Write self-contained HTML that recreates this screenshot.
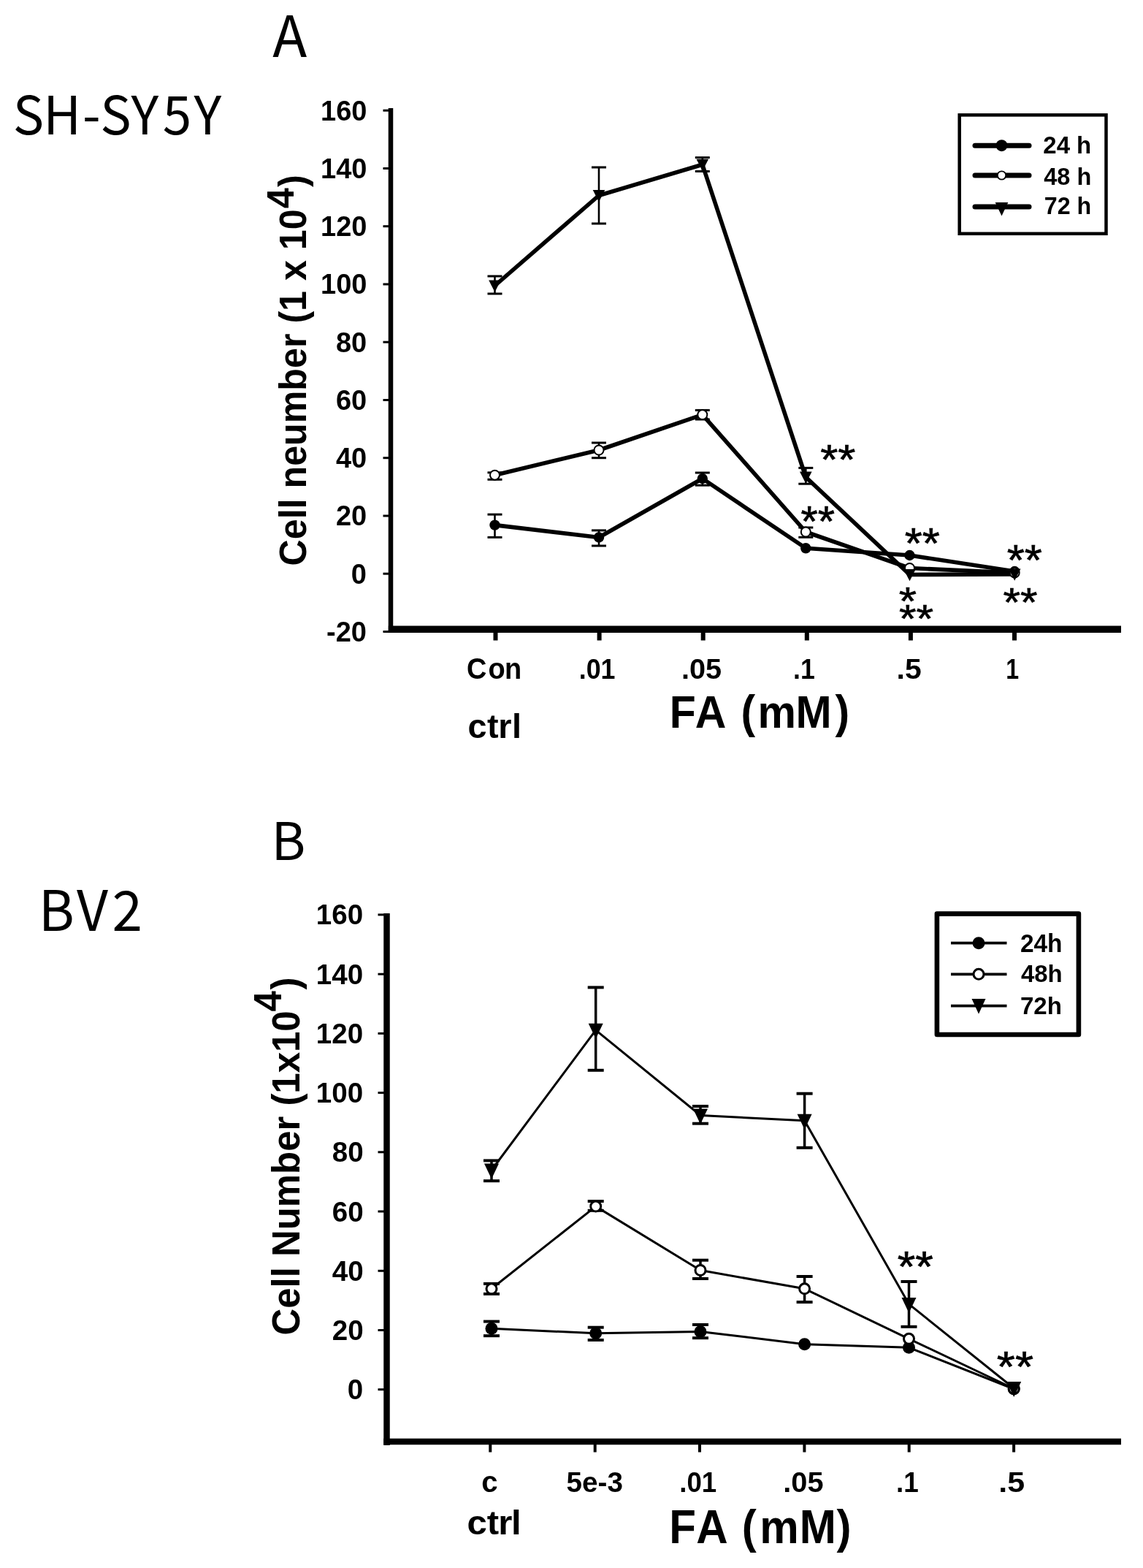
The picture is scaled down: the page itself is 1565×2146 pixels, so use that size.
<!DOCTYPE html>
<html><head><meta charset="utf-8"><title>Cell number vs FA concentration</title>
<style>html,body{margin:0;padding:0;background:#fff;overflow:hidden;} svg{display:block;}</style></head>
<body><svg width="1565" height="2146" viewBox="0 0 1565 2146">
<rect width="1565" height="2146" fill="#fff"/>
<line x1="535.0" y1="148.0" x2="535.0" y2="866.0" stroke="#000" stroke-width="6.5" stroke-linecap="butt"/>
<line x1="531.8" y1="861.2" x2="1535.0" y2="861.2" stroke="#000" stroke-width="9.4" stroke-linecap="butt"/>
<line x1="524.5" y1="864.5" x2="535.0" y2="864.5" stroke="#000" stroke-width="3" stroke-linecap="butt"/>
<line x1="524.5" y1="785.2" x2="535.0" y2="785.2" stroke="#000" stroke-width="3" stroke-linecap="butt"/>
<line x1="524.5" y1="706.0" x2="535.0" y2="706.0" stroke="#000" stroke-width="3" stroke-linecap="butt"/>
<line x1="524.5" y1="626.7" x2="535.0" y2="626.7" stroke="#000" stroke-width="3" stroke-linecap="butt"/>
<line x1="524.5" y1="547.5" x2="535.0" y2="547.5" stroke="#000" stroke-width="3" stroke-linecap="butt"/>
<line x1="524.5" y1="468.2" x2="535.0" y2="468.2" stroke="#000" stroke-width="3" stroke-linecap="butt"/>
<line x1="524.5" y1="389.0" x2="535.0" y2="389.0" stroke="#000" stroke-width="3" stroke-linecap="butt"/>
<line x1="524.5" y1="309.7" x2="535.0" y2="309.7" stroke="#000" stroke-width="3" stroke-linecap="butt"/>
<line x1="524.5" y1="230.5" x2="535.0" y2="230.5" stroke="#000" stroke-width="3" stroke-linecap="butt"/>
<line x1="524.5" y1="151.2" x2="535.0" y2="151.2" stroke="#000" stroke-width="3" stroke-linecap="butt"/>
<line x1="678.5" y1="861.0" x2="678.5" y2="876.5" stroke="#000" stroke-width="6" stroke-linecap="butt"/>
<line x1="820.6" y1="861.0" x2="820.6" y2="876.5" stroke="#000" stroke-width="6" stroke-linecap="butt"/>
<line x1="962.7" y1="861.0" x2="962.7" y2="876.5" stroke="#000" stroke-width="6" stroke-linecap="butt"/>
<line x1="1104.8" y1="861.0" x2="1104.8" y2="876.5" stroke="#000" stroke-width="6" stroke-linecap="butt"/>
<line x1="1246.9" y1="861.0" x2="1246.9" y2="876.5" stroke="#000" stroke-width="6" stroke-linecap="butt"/>
<line x1="1389.0" y1="861.0" x2="1389.0" y2="876.5" stroke="#000" stroke-width="6" stroke-linecap="butt"/>
<polyline points="677.5,718.6 820.0,735.5 961.8,655.0 1103.3,750.3 1245.5,760.0 1389.2,782.0" fill="none" stroke="#000" stroke-width="5.6" stroke-linejoin="round"/>
<polyline points="677.5,650.2 820.0,616.0 961.8,567.6 1103.3,728.0 1245.5,777.5 1389.2,784.0" fill="none" stroke="#000" stroke-width="5.6" stroke-linejoin="round"/>
<polyline points="677.5,391.0 820.0,267.5 961.8,225.3 1103.3,653.0 1245.5,786.5 1389.2,786.0" fill="none" stroke="#000" stroke-width="5.6" stroke-linejoin="round"/>
<line x1="677.5" y1="704.1" x2="677.5" y2="735.4" stroke="#000" stroke-width="2.6" stroke-linecap="butt"/>
<line x1="667.5" y1="704.1" x2="687.5" y2="704.1" stroke="#000" stroke-width="3" stroke-linecap="butt"/>
<line x1="667.5" y1="735.4" x2="687.5" y2="735.4" stroke="#000" stroke-width="3" stroke-linecap="butt"/>
<line x1="820.0" y1="725.9" x2="820.0" y2="747.0" stroke="#000" stroke-width="2.6" stroke-linecap="butt"/>
<line x1="810.0" y1="725.9" x2="830.0" y2="725.9" stroke="#000" stroke-width="3" stroke-linecap="butt"/>
<line x1="810.0" y1="747.0" x2="830.0" y2="747.0" stroke="#000" stroke-width="3" stroke-linecap="butt"/>
<line x1="961.8" y1="647.0" x2="961.8" y2="664.2" stroke="#000" stroke-width="2.6" stroke-linecap="butt"/>
<line x1="951.8" y1="647.0" x2="971.8" y2="647.0" stroke="#000" stroke-width="3" stroke-linecap="butt"/>
<line x1="951.8" y1="664.2" x2="971.8" y2="664.2" stroke="#000" stroke-width="3" stroke-linecap="butt"/>
<line x1="677.5" y1="646.8" x2="677.5" y2="656.3" stroke="#000" stroke-width="2.6" stroke-linecap="butt"/>
<line x1="667.5" y1="646.8" x2="687.5" y2="646.8" stroke="#000" stroke-width="3" stroke-linecap="butt"/>
<line x1="667.5" y1="656.3" x2="687.5" y2="656.3" stroke="#000" stroke-width="3" stroke-linecap="butt"/>
<line x1="820.0" y1="606.0" x2="820.0" y2="626.7" stroke="#000" stroke-width="2.6" stroke-linecap="butt"/>
<line x1="810.0" y1="606.0" x2="830.0" y2="606.0" stroke="#000" stroke-width="3" stroke-linecap="butt"/>
<line x1="810.0" y1="626.7" x2="830.0" y2="626.7" stroke="#000" stroke-width="3" stroke-linecap="butt"/>
<line x1="961.8" y1="561.4" x2="961.8" y2="574.0" stroke="#000" stroke-width="2.6" stroke-linecap="butt"/>
<line x1="951.8" y1="561.4" x2="971.8" y2="561.4" stroke="#000" stroke-width="3" stroke-linecap="butt"/>
<line x1="951.8" y1="574.0" x2="971.8" y2="574.0" stroke="#000" stroke-width="3" stroke-linecap="butt"/>
<line x1="1103.3" y1="722.0" x2="1103.3" y2="735.3" stroke="#000" stroke-width="2.6" stroke-linecap="butt"/>
<line x1="1093.3" y1="722.0" x2="1113.3" y2="722.0" stroke="#000" stroke-width="3" stroke-linecap="butt"/>
<line x1="1093.3" y1="735.3" x2="1113.3" y2="735.3" stroke="#000" stroke-width="3" stroke-linecap="butt"/>
<line x1="677.5" y1="378.0" x2="677.5" y2="402.0" stroke="#000" stroke-width="2.6" stroke-linecap="butt"/>
<line x1="667.5" y1="378.0" x2="687.5" y2="378.0" stroke="#000" stroke-width="3" stroke-linecap="butt"/>
<line x1="667.5" y1="402.0" x2="687.5" y2="402.0" stroke="#000" stroke-width="3" stroke-linecap="butt"/>
<line x1="820.0" y1="229.0" x2="820.0" y2="306.0" stroke="#000" stroke-width="2.6" stroke-linecap="butt"/>
<line x1="810.0" y1="229.0" x2="830.0" y2="229.0" stroke="#000" stroke-width="3" stroke-linecap="butt"/>
<line x1="810.0" y1="306.0" x2="830.0" y2="306.0" stroke="#000" stroke-width="3" stroke-linecap="butt"/>
<line x1="961.8" y1="215.6" x2="961.8" y2="234.5" stroke="#000" stroke-width="2.6" stroke-linecap="butt"/>
<line x1="951.8" y1="215.6" x2="971.8" y2="215.6" stroke="#000" stroke-width="3" stroke-linecap="butt"/>
<line x1="951.8" y1="234.5" x2="971.8" y2="234.5" stroke="#000" stroke-width="3" stroke-linecap="butt"/>
<line x1="1103.3" y1="640.4" x2="1103.3" y2="662.2" stroke="#000" stroke-width="2.6" stroke-linecap="butt"/>
<line x1="1093.3" y1="640.4" x2="1113.3" y2="640.4" stroke="#000" stroke-width="3" stroke-linecap="butt"/>
<line x1="1093.3" y1="662.2" x2="1113.3" y2="662.2" stroke="#000" stroke-width="3" stroke-linecap="butt"/>
<circle cx="677.5" cy="718.6" r="7.2" fill="#000"/>
<circle cx="820.0" cy="735.5" r="7.2" fill="#000"/>
<circle cx="961.8" cy="655.0" r="7.2" fill="#000"/>
<circle cx="1103.3" cy="750.3" r="7.2" fill="#000"/>
<circle cx="1245.5" cy="760.0" r="7.2" fill="#000"/>
<circle cx="1389.2" cy="782.0" r="7.2" fill="#000"/>
<circle cx="677.5" cy="650.2" r="6.5" fill="#fff" stroke="#000" stroke-width="2"/>
<circle cx="820.0" cy="616.0" r="6.5" fill="#fff" stroke="#000" stroke-width="2"/>
<circle cx="961.8" cy="567.6" r="6.5" fill="#fff" stroke="#000" stroke-width="2"/>
<circle cx="1103.3" cy="728.0" r="6.5" fill="#fff" stroke="#000" stroke-width="2"/>
<circle cx="1245.5" cy="777.5" r="6.5" fill="#fff" stroke="#000" stroke-width="2"/>
<circle cx="1389.2" cy="784.0" r="6.5" fill="#fff" stroke="#000" stroke-width="2"/>
<path d="M669.2,383.5 L685.8,383.5 L677.5,399.8Z" fill="#000"/>
<path d="M811.7,260.0 L828.3,260.0 L820.0,276.3Z" fill="#000"/>
<path d="M953.5,217.8 L970.1,217.8 L961.8,234.1Z" fill="#000"/>
<path d="M1095.0,645.5 L1111.6,645.5 L1103.3,661.8Z" fill="#000"/>
<path d="M1237.2,779.0 L1253.8,779.0 L1245.5,795.3Z" fill="#000"/>
<path d="M1380.9,778.5 L1397.5,778.5 L1389.2,794.8Z" fill="#000"/>
<rect x="1313.7" y="157.4" width="200.8" height="162.4" fill="none" stroke="#000" stroke-width="4.5"/>
<line x1="1335.0" y1="199.2" x2="1409.0" y2="199.2" stroke="#000" stroke-width="7" stroke-linecap="round"/>
<circle cx="1371.5" cy="199.2" r="8" fill="#000"/>
<line x1="1335.0" y1="240.0" x2="1409.0" y2="240.0" stroke="#000" stroke-width="7" stroke-linecap="round"/>
<circle cx="1371.5" cy="240.0" r="5.699999999999999" fill="#fff" stroke="#000" stroke-width="1.8"/>
<line x1="1335.0" y1="283.0" x2="1409.0" y2="283.0" stroke="#000" stroke-width="7" stroke-linecap="round"/>
<path d="M1362.7,277.0 L1380.3,277.0 L1371.5,295.5Z" fill="#000"/>
<text transform="translate(373.30,78.00) scale(1.0000,1.0000)" font-size="77.3" style="font-family:'Noto Sans CJK JP','Liberation Sans',sans-serif;font-weight:normal">A</text>
<text transform="translate(0.00,183.60) scale(0.9714,0.9964)" x="18.30 60.95 116.23 141.42 184.69 229.42 273.37" y="0" font-size="73.2" style="font-family:'Noto Sans CJK JP','Liberation Sans',sans-serif;font-weight:normal">SH-SY5Y</text>
<text transform="translate(447.00,877.85) scale(0.9926)" font-size="38.3" style="font-family:'Liberation Sans',Arial,sans-serif;font-weight:bold">-20</text>
<text transform="translate(480.75,798.60) scale(0.9926)" font-size="38.3" style="font-family:'Liberation Sans',Arial,sans-serif;font-weight:bold">0</text>
<text transform="translate(459.90,719.35) scale(0.9926)" font-size="38.3" style="font-family:'Liberation Sans',Arial,sans-serif;font-weight:bold">20</text>
<text transform="translate(459.90,640.10) scale(0.9926)" font-size="38.3" style="font-family:'Liberation Sans',Arial,sans-serif;font-weight:bold">40</text>
<text transform="translate(459.90,560.85) scale(0.9926)" font-size="38.3" style="font-family:'Liberation Sans',Arial,sans-serif;font-weight:bold">60</text>
<text transform="translate(459.90,481.60) scale(0.9926)" font-size="38.3" style="font-family:'Liberation Sans',Arial,sans-serif;font-weight:bold">80</text>
<text transform="translate(439.06,402.35) scale(0.9926)" font-size="38.3" style="font-family:'Liberation Sans',Arial,sans-serif;font-weight:bold">100</text>
<text transform="translate(439.06,323.10) scale(0.9926)" font-size="38.3" style="font-family:'Liberation Sans',Arial,sans-serif;font-weight:bold">120</text>
<text transform="translate(439.06,243.85) scale(0.9926)" font-size="38.3" style="font-family:'Liberation Sans',Arial,sans-serif;font-weight:bold">140</text>
<text transform="translate(439.06,164.60) scale(0.9926)" font-size="38.3" style="font-family:'Liberation Sans',Arial,sans-serif;font-weight:bold">160</text>
<text transform="translate(0.00,928.60) scale(0.9591,1.0315)" x="666.18 696.95 720.51" y="0" font-size="39.6" style="font-family:'Liberation Sans',Arial,sans-serif;font-weight:bold">Con</text>
<text transform="translate(792.72,928.50) scale(0.9280,1.0000)" font-size="38.6" style="font-family:'Liberation Sans',Arial,sans-serif;font-weight:bold">.01</text>
<text transform="translate(932.92,928.50) scale(1.0280,1.0000)" font-size="38.6" style="font-family:'Liberation Sans',Arial,sans-serif;font-weight:bold">.05</text>
<text transform="translate(1086.12,928.50) scale(0.9250,1.0000)" font-size="38.6" style="font-family:'Liberation Sans',Arial,sans-serif;font-weight:bold">.1</text>
<text transform="translate(1227.52,928.50) scale(1.0607,1.0000)" font-size="38.6" style="font-family:'Liberation Sans',Arial,sans-serif;font-weight:bold">.5</text>
<text transform="translate(1377.33,928.50) scale(0.8333,1.0000)" font-size="38.6" style="font-family:'Liberation Sans',Arial,sans-serif;font-weight:bold">1</text>
<text transform="translate(0.00,1010.30) scale(0.9742,0.9771)" x="657.41 684.57 700.40 719.59" y="0" font-size="48.1" style="font-family:'Liberation Sans',Arial,sans-serif;font-weight:bold">ctrl</text>
<text transform="translate(0.00,995.70) scale(0.9062,0.9800)" x="1011.65 1050.36 1055.36 1119.63 1144.78 1202.23 1261.94" y="0" font-size="65.1" style="font-family:'Liberation Sans',Arial,sans-serif;font-weight:bold">FA (mM)</text>
<text transform="translate(419.41,774.52) scale(1.0391,1.0081) rotate(-90)" font-size="49.8" style="font-family:'Liberation Sans',Arial,sans-serif;font-weight:bold">Cell neumber (1 x 10<tspan x="485.26" y="-16.43">4</tspan><tspan x="514.28" y="-0.96">)</tspan></text>
<text transform="translate(1428.34,210.30) scale(0.9576,0.9923)" font-size="34.4" style="font-family:'Liberation Sans',Arial,sans-serif;font-weight:bold">24 h</text>
<text transform="translate(1429.30,252.90) scale(1.0032,1.0125)" font-size="32.4" style="font-family:'Liberation Sans',Arial,sans-serif;font-weight:bold">48 h</text>
<text transform="translate(1429.80,293.30) scale(0.9952,1.0125)" font-size="32.4" style="font-family:'Liberation Sans',Arial,sans-serif;font-weight:bold">72 h</text>
<text transform="translate(1123.14,649.12) scale(1.0568,0.9762)" font-size="58.6" style="font-family:'Liberation Sans',Arial,sans-serif;font-weight:normal;stroke:#000;stroke-width:0.7px">**</text>
<text transform="translate(1096.60,733.61) scale(1.0045,0.9905)" font-size="59.4" style="font-family:'Liberation Sans',Arial,sans-serif;font-weight:normal;stroke:#000;stroke-width:0.7px">**</text>
<text transform="translate(1238.67,763.80) scale(1.0289,1.0000)" font-size="60.0" style="font-family:'Liberation Sans',Arial,sans-serif;font-weight:normal;stroke:#000;stroke-width:0.7px">**</text>
<text transform="translate(1378.78,787.46) scale(1.0152,0.9682)" font-size="60.9" style="font-family:'Liberation Sans',Arial,sans-serif;font-weight:normal;stroke:#000;stroke-width:0.7px">**</text>
<text transform="translate(1230.87,841.17) scale(1.1300,0.9650)" font-size="55.1" style="font-family:'Liberation Sans',Arial,sans-serif;font-weight:normal;stroke:#000;stroke-width:0.7px">*</text>
<text transform="translate(1373.45,842.79) scale(1.0535,0.9571)" font-size="57.4" style="font-family:'Liberation Sans',Arial,sans-serif;font-weight:normal;stroke:#000;stroke-width:0.7px">**</text>
<text transform="translate(1230.94,865.20) scale(1.0605,0.9524)" font-size="57.1" style="font-family:'Liberation Sans',Arial,sans-serif;font-weight:normal;stroke:#000;stroke-width:0.7px">**</text>
<line x1="529.5" y1="1250.0" x2="529.5" y2="1978.0" stroke="#000" stroke-width="8.5" stroke-linecap="butt"/>
<line x1="525.3" y1="1973.0" x2="1535.0" y2="1973.0" stroke="#000" stroke-width="8.6" stroke-linecap="butt"/>
<line x1="517.5" y1="1901.7" x2="529.5" y2="1901.7" stroke="#000" stroke-width="3" stroke-linecap="butt"/>
<line x1="517.5" y1="1820.5" x2="529.5" y2="1820.5" stroke="#000" stroke-width="3" stroke-linecap="butt"/>
<line x1="517.5" y1="1739.3" x2="529.5" y2="1739.3" stroke="#000" stroke-width="3" stroke-linecap="butt"/>
<line x1="517.5" y1="1658.0" x2="529.5" y2="1658.0" stroke="#000" stroke-width="3" stroke-linecap="butt"/>
<line x1="517.5" y1="1576.8" x2="529.5" y2="1576.8" stroke="#000" stroke-width="3" stroke-linecap="butt"/>
<line x1="517.5" y1="1495.6" x2="529.5" y2="1495.6" stroke="#000" stroke-width="3" stroke-linecap="butt"/>
<line x1="517.5" y1="1414.4" x2="529.5" y2="1414.4" stroke="#000" stroke-width="3" stroke-linecap="butt"/>
<line x1="517.5" y1="1333.2" x2="529.5" y2="1333.2" stroke="#000" stroke-width="3" stroke-linecap="butt"/>
<line x1="517.5" y1="1251.9" x2="529.5" y2="1251.9" stroke="#000" stroke-width="3" stroke-linecap="butt"/>
<line x1="671.3" y1="1973.0" x2="671.3" y2="1987.5" stroke="#000" stroke-width="4" stroke-linecap="butt"/>
<line x1="814.7" y1="1973.0" x2="814.7" y2="1987.5" stroke="#000" stroke-width="4" stroke-linecap="butt"/>
<line x1="958.0" y1="1973.0" x2="958.0" y2="1987.5" stroke="#000" stroke-width="4" stroke-linecap="butt"/>
<line x1="1101.4" y1="1973.0" x2="1101.4" y2="1987.5" stroke="#000" stroke-width="4" stroke-linecap="butt"/>
<line x1="1244.7" y1="1973.0" x2="1244.7" y2="1987.5" stroke="#000" stroke-width="4" stroke-linecap="butt"/>
<line x1="1388.1" y1="1973.0" x2="1388.1" y2="1987.5" stroke="#000" stroke-width="4" stroke-linecap="butt"/>
<polyline points="673.0,1818.3 815.7,1824.7 959.0,1822.4 1101.6,1839.7 1244.5,1844.3 1388.2,1901.0" fill="none" stroke="#000" stroke-width="3.0" stroke-linejoin="round"/>
<polyline points="673.0,1763.8 815.7,1651.1 959.0,1738.5 1101.6,1763.8 1244.5,1832.3 1388.2,1900.5" fill="none" stroke="#000" stroke-width="3.0" stroke-linejoin="round"/>
<polyline points="673.0,1601.5 815.7,1409.8 959.0,1526.5 1101.6,1533.8 1244.5,1784.9 1388.2,1900.0" fill="none" stroke="#000" stroke-width="3.0" stroke-linejoin="round"/>
<line x1="673.0" y1="1808.6" x2="673.0" y2="1828.2" stroke="#000" stroke-width="3.5" stroke-linecap="butt"/>
<line x1="662.0" y1="1808.6" x2="684.0" y2="1808.6" stroke="#000" stroke-width="4" stroke-linecap="butt"/>
<line x1="662.0" y1="1828.2" x2="684.0" y2="1828.2" stroke="#000" stroke-width="4" stroke-linecap="butt"/>
<line x1="815.7" y1="1816.7" x2="815.7" y2="1834.0" stroke="#000" stroke-width="3.5" stroke-linecap="butt"/>
<line x1="804.7" y1="1816.7" x2="826.7" y2="1816.7" stroke="#000" stroke-width="4" stroke-linecap="butt"/>
<line x1="804.7" y1="1834.0" x2="826.7" y2="1834.0" stroke="#000" stroke-width="4" stroke-linecap="butt"/>
<line x1="959.0" y1="1813.0" x2="959.0" y2="1831.2" stroke="#000" stroke-width="3.5" stroke-linecap="butt"/>
<line x1="948.0" y1="1813.0" x2="970.0" y2="1813.0" stroke="#000" stroke-width="4" stroke-linecap="butt"/>
<line x1="948.0" y1="1831.2" x2="970.0" y2="1831.2" stroke="#000" stroke-width="4" stroke-linecap="butt"/>
<line x1="673.0" y1="1756.9" x2="673.0" y2="1770.9" stroke="#000" stroke-width="3.5" stroke-linecap="butt"/>
<line x1="662.0" y1="1756.9" x2="684.0" y2="1756.9" stroke="#000" stroke-width="4" stroke-linecap="butt"/>
<line x1="662.0" y1="1770.9" x2="684.0" y2="1770.9" stroke="#000" stroke-width="4" stroke-linecap="butt"/>
<line x1="815.7" y1="1644.0" x2="815.7" y2="1656.8" stroke="#000" stroke-width="3.5" stroke-linecap="butt"/>
<line x1="804.7" y1="1644.0" x2="826.7" y2="1644.0" stroke="#000" stroke-width="4" stroke-linecap="butt"/>
<line x1="804.7" y1="1656.8" x2="826.7" y2="1656.8" stroke="#000" stroke-width="4" stroke-linecap="butt"/>
<line x1="959.0" y1="1724.7" x2="959.0" y2="1750.0" stroke="#000" stroke-width="3.5" stroke-linecap="butt"/>
<line x1="948.0" y1="1724.7" x2="970.0" y2="1724.7" stroke="#000" stroke-width="4" stroke-linecap="butt"/>
<line x1="948.0" y1="1750.0" x2="970.0" y2="1750.0" stroke="#000" stroke-width="4" stroke-linecap="butt"/>
<line x1="1101.6" y1="1747.0" x2="1101.6" y2="1782.1" stroke="#000" stroke-width="3.5" stroke-linecap="butt"/>
<line x1="1090.6" y1="1747.0" x2="1112.6" y2="1747.0" stroke="#000" stroke-width="4" stroke-linecap="butt"/>
<line x1="1090.6" y1="1782.1" x2="1112.6" y2="1782.1" stroke="#000" stroke-width="4" stroke-linecap="butt"/>
<line x1="673.0" y1="1588.4" x2="673.0" y2="1616.2" stroke="#000" stroke-width="3.5" stroke-linecap="butt"/>
<line x1="662.0" y1="1588.4" x2="684.0" y2="1588.4" stroke="#000" stroke-width="4" stroke-linecap="butt"/>
<line x1="662.0" y1="1616.2" x2="684.0" y2="1616.2" stroke="#000" stroke-width="4" stroke-linecap="butt"/>
<line x1="815.7" y1="1351.4" x2="815.7" y2="1464.8" stroke="#000" stroke-width="3.5" stroke-linecap="butt"/>
<line x1="804.7" y1="1351.4" x2="826.7" y2="1351.4" stroke="#000" stroke-width="4" stroke-linecap="butt"/>
<line x1="804.7" y1="1464.8" x2="826.7" y2="1464.8" stroke="#000" stroke-width="4" stroke-linecap="butt"/>
<line x1="959.0" y1="1514.0" x2="959.0" y2="1537.7" stroke="#000" stroke-width="3.5" stroke-linecap="butt"/>
<line x1="948.0" y1="1514.0" x2="970.0" y2="1514.0" stroke="#000" stroke-width="4" stroke-linecap="butt"/>
<line x1="948.0" y1="1537.7" x2="970.0" y2="1537.7" stroke="#000" stroke-width="4" stroke-linecap="butt"/>
<line x1="1101.6" y1="1496.7" x2="1101.6" y2="1570.8" stroke="#000" stroke-width="3.5" stroke-linecap="butt"/>
<line x1="1090.6" y1="1496.7" x2="1112.6" y2="1496.7" stroke="#000" stroke-width="4" stroke-linecap="butt"/>
<line x1="1090.6" y1="1570.8" x2="1112.6" y2="1570.8" stroke="#000" stroke-width="4" stroke-linecap="butt"/>
<line x1="1244.5" y1="1754.0" x2="1244.5" y2="1815.8" stroke="#000" stroke-width="3.5" stroke-linecap="butt"/>
<line x1="1233.5" y1="1754.0" x2="1255.5" y2="1754.0" stroke="#000" stroke-width="4" stroke-linecap="butt"/>
<line x1="1233.5" y1="1815.8" x2="1255.5" y2="1815.8" stroke="#000" stroke-width="4" stroke-linecap="butt"/>
<circle cx="673.0" cy="1818.3" r="8.5" fill="#000"/>
<circle cx="815.7" cy="1824.7" r="8.5" fill="#000"/>
<circle cx="959.0" cy="1822.4" r="8.5" fill="#000"/>
<circle cx="1101.6" cy="1839.7" r="8.5" fill="#000"/>
<circle cx="1244.5" cy="1844.3" r="8.5" fill="#000"/>
<circle cx="1388.2" cy="1901.0" r="8.5" fill="#000"/>
<circle cx="673.0" cy="1763.8" r="7.0" fill="#fff" stroke="#000" stroke-width="3"/>
<circle cx="815.7" cy="1651.1" r="7.0" fill="#fff" stroke="#000" stroke-width="3"/>
<circle cx="959.0" cy="1738.5" r="7.0" fill="#fff" stroke="#000" stroke-width="3"/>
<circle cx="1101.6" cy="1763.8" r="7.0" fill="#fff" stroke="#000" stroke-width="3"/>
<circle cx="1244.5" cy="1832.3" r="7.0" fill="#fff" stroke="#000" stroke-width="3"/>
<circle cx="1388.2" cy="1900.5" r="7.0" fill="#fff" stroke="#000" stroke-width="3"/>
<path d="M663.0,1592.5 L683.0,1592.5 L673.0,1613.5Z" fill="#000"/>
<path d="M805.7,1400.8 L825.7,1400.8 L815.7,1421.8Z" fill="#000"/>
<path d="M949.0,1517.5 L969.0,1517.5 L959.0,1538.5Z" fill="#000"/>
<path d="M1091.6,1524.8 L1111.6,1524.8 L1101.6,1545.8Z" fill="#000"/>
<path d="M1234.5,1775.9 L1254.5,1775.9 L1244.5,1796.9Z" fill="#000"/>
<path d="M1378.2,1891.0 L1398.2,1891.0 L1388.2,1912.0Z" fill="#000"/>
<rect x="1282.9" y="1250.6" width="194" height="165.4" fill="none" stroke="#000" stroke-width="6.6" stroke-linejoin="round"/>
<line x1="1302.0" y1="1290.7" x2="1378.5" y2="1290.7" stroke="#000" stroke-width="3.7" stroke-linecap="butt"/>
<circle cx="1340.0" cy="1290.7" r="8.5" fill="#000"/>
<line x1="1302.0" y1="1333.3" x2="1378.5" y2="1333.3" stroke="#000" stroke-width="3.7" stroke-linecap="butt"/>
<circle cx="1340.0" cy="1333.3" r="7.0" fill="#fff" stroke="#000" stroke-width="3"/>
<line x1="1302.0" y1="1376.7" x2="1378.5" y2="1376.7" stroke="#000" stroke-width="3.7" stroke-linecap="butt"/>
<path d="M1330.5,1367.1 L1349.5,1367.1 L1340.0,1387.7Z" fill="#000"/>
<text transform="translate(371.50,1176.90) scale(1.0139,0.9981)" font-size="70.4" style="font-family:'Noto Sans CJK JP','Liberation Sans',sans-serif;font-weight:normal">B</text>
<text transform="translate(0.00,1274.20) scale(0.9914,1.0109)" x="53.14 106.04 154.90" y="0" font-size="75.4" style="font-family:'Noto Sans CJK JP','Liberation Sans',sans-serif;font-weight:normal">BV2</text>
<text transform="translate(475.80,1915.20) scale(1.0000)" font-size="38.6" style="font-family:'Liberation Sans',Arial,sans-serif;font-weight:bold">0</text>
<text transform="translate(454.80,1833.98) scale(1.0000)" font-size="38.6" style="font-family:'Liberation Sans',Arial,sans-serif;font-weight:bold">20</text>
<text transform="translate(454.80,1752.76) scale(1.0000)" font-size="38.6" style="font-family:'Liberation Sans',Arial,sans-serif;font-weight:bold">40</text>
<text transform="translate(454.80,1671.54) scale(1.0000)" font-size="38.6" style="font-family:'Liberation Sans',Arial,sans-serif;font-weight:bold">60</text>
<text transform="translate(454.80,1590.32) scale(1.0000)" font-size="38.6" style="font-family:'Liberation Sans',Arial,sans-serif;font-weight:bold">80</text>
<text transform="translate(432.80,1509.10) scale(1.0000)" font-size="38.6" style="font-family:'Liberation Sans',Arial,sans-serif;font-weight:bold">100</text>
<text transform="translate(432.80,1427.88) scale(1.0000)" font-size="38.6" style="font-family:'Liberation Sans',Arial,sans-serif;font-weight:bold">120</text>
<text transform="translate(432.80,1346.66) scale(1.0000)" font-size="38.6" style="font-family:'Liberation Sans',Arial,sans-serif;font-weight:bold">140</text>
<text transform="translate(432.80,1265.44) scale(1.0000)" font-size="38.6" style="font-family:'Liberation Sans',Arial,sans-serif;font-weight:bold">160</text>
<text transform="translate(775.59,2041.60) scale(1.0095,0.9926)" font-size="38.3" style="font-family:'Liberation Sans',Arial,sans-serif;font-weight:bold">5e-3</text>
<text transform="translate(930.22,2041.60) scale(0.9592,0.9926)" font-size="38.3" style="font-family:'Liberation Sans',Arial,sans-serif;font-weight:bold">.01</text>
<text transform="translate(1072.28,2041.60) scale(1.0388,0.9926)" font-size="38.3" style="font-family:'Liberation Sans',Arial,sans-serif;font-weight:bold">.05</text>
<text transform="translate(1227.11,2041.60) scale(0.9643,0.9926)" font-size="38.3" style="font-family:'Liberation Sans',Arial,sans-serif;font-weight:bold">.1</text>
<text transform="translate(1367.24,2041.60) scale(1.1214,0.9926)" font-size="38.3" style="font-family:'Liberation Sans',Arial,sans-serif;font-weight:bold">.5</text>
<text transform="translate(659.27,2042.20) scale(1.0158,1.0381)" font-size="39.6" style="font-family:'Liberation Sans',Arial,sans-serif;font-weight:bold">c</text>
<text transform="translate(0.00,2100.00) scale(1.0283,0.9714)" x="621.97 648.29 663.39 680.66" y="0" font-size="47.8" style="font-family:'Liberation Sans',Arial,sans-serif;font-weight:bold">ctrl</text>
<text transform="translate(0.00,2111.50) scale(0.9085,0.9826)" x="1008.52 1049.38 1054.38 1118.06 1144.98 1204.98 1260.96" y="0" font-size="66.2" style="font-family:'Liberation Sans',Arial,sans-serif;font-weight:bold">FA (mM)</text>
<text transform="translate(409.99,1827.54) scale(1.0102,0.9698) rotate(-90)" font-size="52.5" style="font-family:'Liberation Sans',Arial,sans-serif;font-weight:bold">Cell Number (1x10<tspan x="456.93" y="-24.50">4</tspan><tspan x="487.79" y="-0.69">)</tspan></text>
<text transform="translate(1396.89,1302.50) scale(1.0056,1.0417)" font-size="33.3" style="font-family:'Liberation Sans',Arial,sans-serif;font-weight:bold">24h</text>
<text transform="translate(1397.90,1344.40) scale(1.0442,1.0261)" font-size="31.5" style="font-family:'Liberation Sans',Arial,sans-serif;font-weight:bold">48h</text>
<text transform="translate(1396.88,1387.70) scale(1.0245,1.0083)" font-size="32.3" style="font-family:'Liberation Sans',Arial,sans-serif;font-weight:bold">72h</text>
<text transform="translate(1228.84,1753.60) scale(1.0556,0.9952)" font-size="59.7" style="font-family:'Liberation Sans',Arial,sans-serif;font-weight:normal;stroke:#000;stroke-width:0.7px">**</text>
<text transform="translate(1364.84,1891.17) scale(1.0622,0.9636)" font-size="60.6" style="font-family:'Liberation Sans',Arial,sans-serif;font-weight:normal;stroke:#000;stroke-width:0.7px">**</text>
</svg></body></html>
